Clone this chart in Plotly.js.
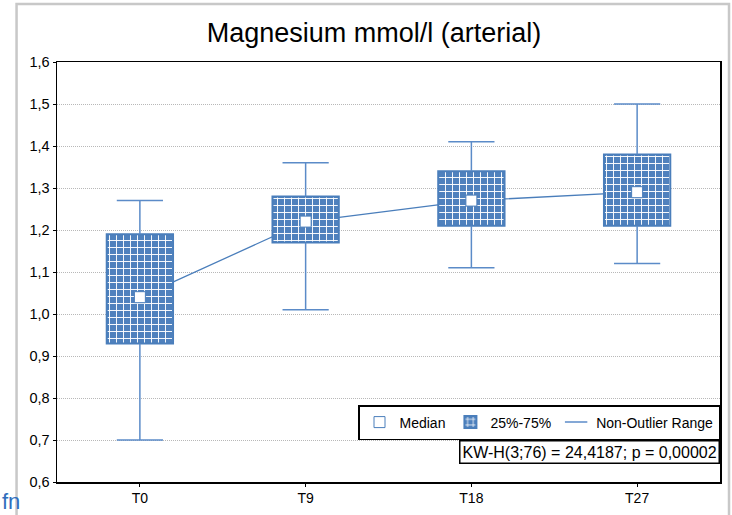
<!DOCTYPE html>
<html>
<head>
<meta charset="utf-8">
<script src="https://cdn.plot.ly/plotly-3.0.1.min.js"></script>
<style>html,body{margin:0;padding:0;background:#fff;}#chart{width:732px;height:515px;}</style>
</head>
<body>
<div id="chart"></div>
<script>
// ---- data ----
var categories = ["T0", "T9", "T18", "T27"];
var medianVals = [1.04, 1.22, 1.27, 1.29];
var q1Vals     = [0.93, 1.17, 1.21, 1.21];
var q3Vals     = [1.19, 1.28, 1.34, 1.38];
var lowerVals  = [0.70, 1.01, 1.11, 1.12];
var upperVals  = [1.27, 1.36, 1.41, 1.50];
var yTicks     = [0.6, 0.7, 0.8, 0.9, 1.0, 1.1, 1.2, 1.3, 1.4, 1.5, 1.6];
var chartTitle = "Magnesium mmol/l (arterial)";
var statText   = "KW-H(3;76) = 24,4187; p = 0,00002";

var blue = "#4a7ebb";
var whiskerBlue = "#5b8bc8";
var font = "Arial, 'Liberation Sans', sans-serif";

var boxHeights = q3Vals.map(function (v, i) { return v - q1Vals[i]; });
var zeros = categories.map(function () { return 0; });
var upArm = upperVals.map(function (v, i) { return v - q3Vals[i]; });
var lowArm = q1Vals.map(function (v, i) { return v - lowerVals[i]; });

var traces = [
  { // connecting line through medians (behind boxes)
    type: "scatter", mode: "lines", x: categories, y: medianVals,
    xaxis: "x", yaxis: "y", showlegend: false, hoverinfo: "skip",
    line: { color: blue, width: 1.3 }
  },
  { // 25%-75% boxes
    type: "bar", name: "25%-75%", x: categories, y: boxHeights, base: q1Vals,
    xaxis: "x2", yaxis: "y2", width: 0.4, legendrank: 2,
    marker: {
      color: "#4f81bd",
      line: { color: blue, width: 2 },
      pattern: { shape: "+", fgcolor: "#ffffff", bgcolor: "#4f81bd", size: 7, solidity: 0.25, fillmode: "replace" }
    }
  },
  { // upper whiskers
    type: "scatter", mode: "markers", name: "Non-Outlier Range", x: categories, y: upperVals,
    xaxis: "x2", yaxis: "y2", legendrank: 3, cliponaxis: false,
    marker: { symbol: "line-ew", size: 33, color: whiskerBlue, line: { color: whiskerBlue, width: 1.5 } },
    error_y: { type: "data", symmetric: false, array: zeros, arrayminus: upArm, width: 0, thickness: 1.5, color: whiskerBlue }
  },
  { // lower whiskers
    type: "scatter", mode: "markers", name: "Non-Outlier Range", x: categories, y: lowerVals,
    xaxis: "x2", yaxis: "y2", showlegend: false, cliponaxis: false,
    marker: { symbol: "line-ew", size: 33, color: whiskerBlue, line: { color: whiskerBlue, width: 1.5 } },
    error_y: { type: "data", symmetric: false, array: lowArm, arrayminus: zeros, width: 0, thickness: 1.5, color: whiskerBlue }
  },
  { // medians
    type: "scatter", mode: "markers", name: "Median", x: categories, y: medianVals,
    xaxis: "x2", yaxis: "y2", legendrank: 1,
    marker: { symbol: "square", size: 11, color: "#ffffff", line: { color: blue, width: 1 } }
  }
];

var xCommon = {
  type: "category", categoryorder: "array", categoryarray: categories,
  range: [-0.5, categories.length - 0.5], fixedrange: true
};
var yCommon = { range: [yTicks[0], yTicks[yTicks.length - 1]], fixedrange: true };

var layout = {
  width: 732, height: 515,
  margin: { l: 57, r: 12, t: 62, b: 33 },
  paper_bgcolor: "#ffffff", plot_bgcolor: "#ffffff",
  separators: ",.",
  font: { family: font, color: "#000000", size: 14 },
  showlegend: true,
  barmode: "overlay",
  title: {
    text: chartTitle, font: { family: font, size: 27, color: "#000000" },
    xref: "container", x: 0.511, xanchor: "center",
    yref: "container", y: 0.936, yanchor: "middle"
  },
  xaxis: Object.assign({}, xCommon, {
    showline: true, linecolor: "#000000", linewidth: 1.5, mirror: true,
    ticks: "outside", ticklen: 3, tickcolor: "#000000",
    showgrid: false, zeroline: false,
    tickfont: { family: font, size: 14, color: "#000000" }
  }),
  yaxis: Object.assign({}, yCommon, {
    tickmode: "array", tickvals: yTicks, tickformat: ".1f",
    showline: true, linecolor: "#000000", linewidth: 1.5, mirror: true,
    ticks: "outside", ticklen: 3, tickcolor: "#000000",
    showgrid: true, gridcolor: "#b8b8b8", griddash: "1px,1px", gridwidth: 1,
    zeroline: false,
    tickfont: { family: font, size: 14.5, color: "#000000" }
  }),
  xaxis2: Object.assign({}, xCommon, {
    overlaying: "x", anchor: "y2", visible: false, showgrid: false
  }),
  yaxis2: Object.assign({}, yCommon, {
    overlaying: "y", anchor: "x2", visible: false, showgrid: false
  }),
  legend: {
    orientation: "h", x: 1, xanchor: "right", y: 0.1, yanchor: "bottom",
    bgcolor: "#ffffff", bordercolor: "#000000", borderwidth: 1.5,
    font: { family: font, size: 14, color: "#000000" },
    traceorder: "normal"
  },
  annotations: [
    {
      text: statText, xref: "paper", yref: "paper", x: 1, y: 0.1,
      xanchor: "right", yanchor: "top", showarrow: false,
      font: { family: font, size: 16, color: "#000000" },
      bgcolor: "#ffffff", bordercolor: "#000000", borderwidth: 1.5, borderpad: 2
    },
    {
      text: "fn", xref: "paper", yref: "paper", x: -0.0855, y: -0.08,
      xanchor: "left", yanchor: "bottom", showarrow: false,
      font: { family: font, size: 22, color: "#2f6ebd" }
    }
  ],
  shapes: [
    {
      type: "rect", xref: "paper", yref: "paper", layer: "below",
      x0: -0.061, x1: 1.0136, y0: -0.2, y1: 1.138,
      line: { color: "#c8c8c8", width: 2.5 }, fillcolor: "rgba(0,0,0,0)"
    }
  ]
};

Plotly.newPlot("chart", traces, layout, { displayModeBar: false, staticPlot: true });
</script>
</body>
</html>
